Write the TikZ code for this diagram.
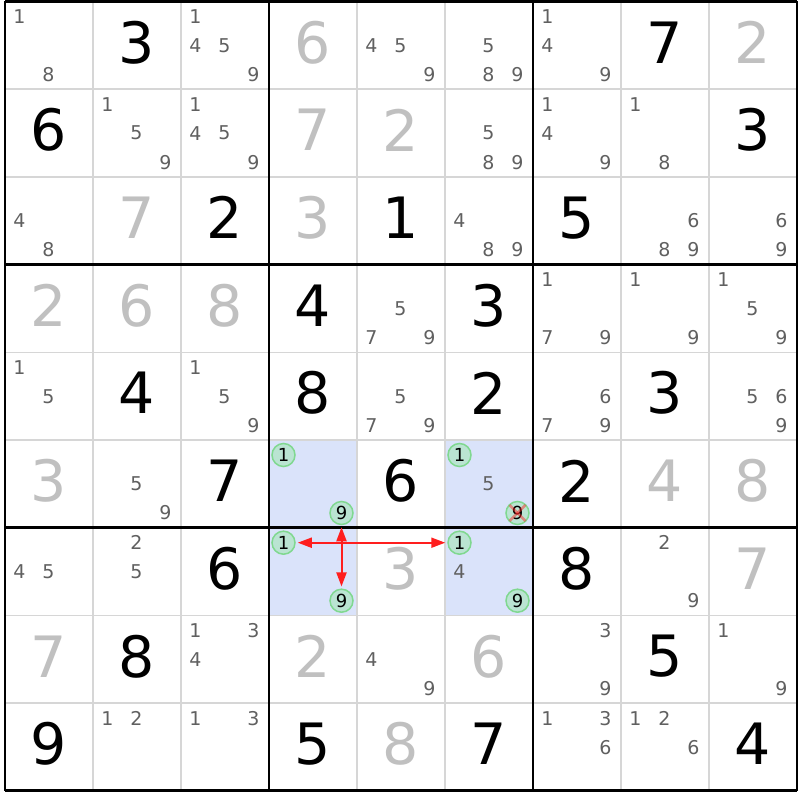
\documentclass[tikz,border=0pt]{standalone}
\usepackage{fontspec}
\setmainfont{DejaVu Sans}
\usetikzlibrary{arrows.meta}
\definecolor{candgray}{RGB}{96,96,96}
\definecolor{givengray}{RGB}{192,192,192}
\definecolor{cellblue}{RGB}{218,227,250}
\definecolor{linkfill}{RGB}{186,228,210}
\definecolor{linkline}{RGB}{128,216,144}
\definecolor{chainred}{RGB}{255,30,30}
\definecolor{gridgray}{RGB}{214,214,214}
\tikzset{
  bigdig/.style={inner sep=0pt,font=\fontsize{57pt}{60pt}\selectfont},
  solved/.style={bigdig,text=black},
  given/.style={bigdig,text=givengray},
  cand/.style={inner sep=0pt,text=candgray,font=\fontsize{19pt}{20pt}\selectfont},
  linkcand/.style={circle,draw=linkline,fill=linkfill,line width=1.5pt,minimum size=23pt,
    inner sep=0pt,text=black,font=\fontsize{18pt}{19pt}\selectfont},
  chain/.style={chainred,line width=2pt,{Triangle[length=14pt,width=10pt]}-{Triangle[length=14pt,width=10pt]},
    shorten <=2pt,shorten >=2pt},
  strike/.style={chainred,opacity=0.45,line width=2.5pt},
  thinline/.style={gridgray,line width=1.5pt},
  boxline/.style={black,line width=2.8pt}
}

\begin{document}
\begin{tikzpicture}[x=1pt,y=-1pt]
  \useasboundingbox[fill=white] (0,0) rectangle (800,800);

  % highlighted cells
  \foreach \r/\c in {6/4,6/6,7/4,7/6}
    \fill[cellblue] ({5+88*(\c-1)},{1.5+87.7*(\r-1)}) rectangle ++(88,87.7);

  % grid
  \foreach \i in {1,2,4,5,7,8}{
    \draw[thinline] ({5+88*\i},1.5) -- ({5+88*\i},790.8);
    \draw[thinline] (5,{1.5+87.7*\i}) -- (797,{1.5+87.7*\i});
  }
  \foreach \i in {0,3,6,9}{
    \draw[boxline] ({5+88*\i},1.5) -- ({5+88*\i},790.8);
    \draw[boxline] (5,{1.5+87.7*\i}) -- (797,{1.5+87.7*\i});
  }

  % placed digits
  \foreach \r/\c/\d in {1/2/3,1/8/7,2/1/6,2/9/3,3/3/2,3/5/1,3/7/5,4/4/4,4/6/3,5/2/4,5/4/8,5/6/2,
      5/8/3,6/3/7,6/5/6,6/7/2,7/3/6,7/7/8,8/2/8,8/8/5,9/1/9,9/4/5,9/6/7,9/9/4}{
    \pgfmathsetmacro\xpos{5+88*(\c-0.5)}
    \pgfmathsetmacro\ypos{1.5+87.7*(\r-0.5)-3}
    \node[solved] (r\r c\c) at (\xpos,\ypos) {\d};
  }
  \foreach \r/\c/\d in {1/4/6,1/9/2,2/4/7,2/5/2,3/2/7,3/4/3,4/1/2,4/2/6,4/3/8,6/1/3,6/8/4,6/9/8,
      7/5/3,7/9/7,8/1/7,8/4/2,8/6/6,9/5/8}{
    \pgfmathsetmacro\xpos{5+88*(\c-0.5)}
    \pgfmathsetmacro\ypos{1.5+87.7*(\r-0.5)-3}
    \node[given] (r\r c\c) at (\xpos,\ypos) {\d};
  }

  % candidates
  \foreach \r/\c/\ds in {1/1/{1,8},1/3/{1,4,5,9},1/5/{4,5,9},1/6/{5,8,9},1/7/{1,4,9},
      2/2/{1,5,9},2/3/{1,4,5,9},2/6/{5,8,9},2/7/{1,4,9},2/8/{1,8},
      3/1/{4,8},3/6/{4,8,9},3/8/{6,8,9},3/9/{6,9},
      4/5/{5,7,9},4/7/{1,7,9},4/8/{1,9},4/9/{1,5,9},
      5/1/{1,5},5/3/{1,5,9},5/5/{5,7,9},5/7/{6,7,9},5/9/{5,6,9},
      6/2/{5,9},6/6/{5},
      7/1/{4,5},7/2/{2,5},7/6/{4},7/8/{2,9},
      8/3/{1,3,4},8/5/{4,9},8/7/{3,9},8/9/{1,9},
      9/2/{1,2},9/3/{1,3},9/7/{1,3,6},9/8/{1,2,6}}{
    \foreach \d in \ds {
      \pgfmathtruncatemacro\k{mod(\d-1,3)}
      \pgfmathtruncatemacro\j{int((\d-1)/3)}
      \pgfmathsetmacro\xpos{5+88*(\c-1)+14.5+29*\k}
      \pgfmathsetmacro\ypos{1.5+87.7*(\r-1)+15+29*\j}
      \node[cand] (r\r c\c n\d) at (\xpos,\ypos) {\d};
    }
  }

  % linked candidates
  \foreach \r/\c/\d in {6/4/1,6/4/9,6/6/1,6/6/9,7/4/1,7/4/9,7/6/1,7/6/9}{
    \pgfmathtruncatemacro\k{mod(\d-1,3)}
    \pgfmathtruncatemacro\j{int((\d-1)/3)}
    \pgfmathsetmacro\xpos{5+88*(\c-1)+14.5+29*\k}
    \pgfmathsetmacro\ypos{1.5+87.7*(\r-1)+15+29*\j}
    \node[linkcand] (r\r c\c n\d) at (\xpos,\ypos) {\d};
  }

  % chain
  \draw[chain] (r6c4n9) -- (r7c4n9);
  \draw[chain] (r7c4n1) -- (r7c6n1);

  % eliminated candidate
  \draw[strike] ([shift={(-8,-8)}]r6c6n9.center) -- ([shift={(8,8)}]r6c6n9.center);
  \draw[strike] ([shift={(-8,8)}]r6c6n9.center) -- ([shift={(8,-8)}]r6c6n9.center);
\end{tikzpicture}
\end{document}
